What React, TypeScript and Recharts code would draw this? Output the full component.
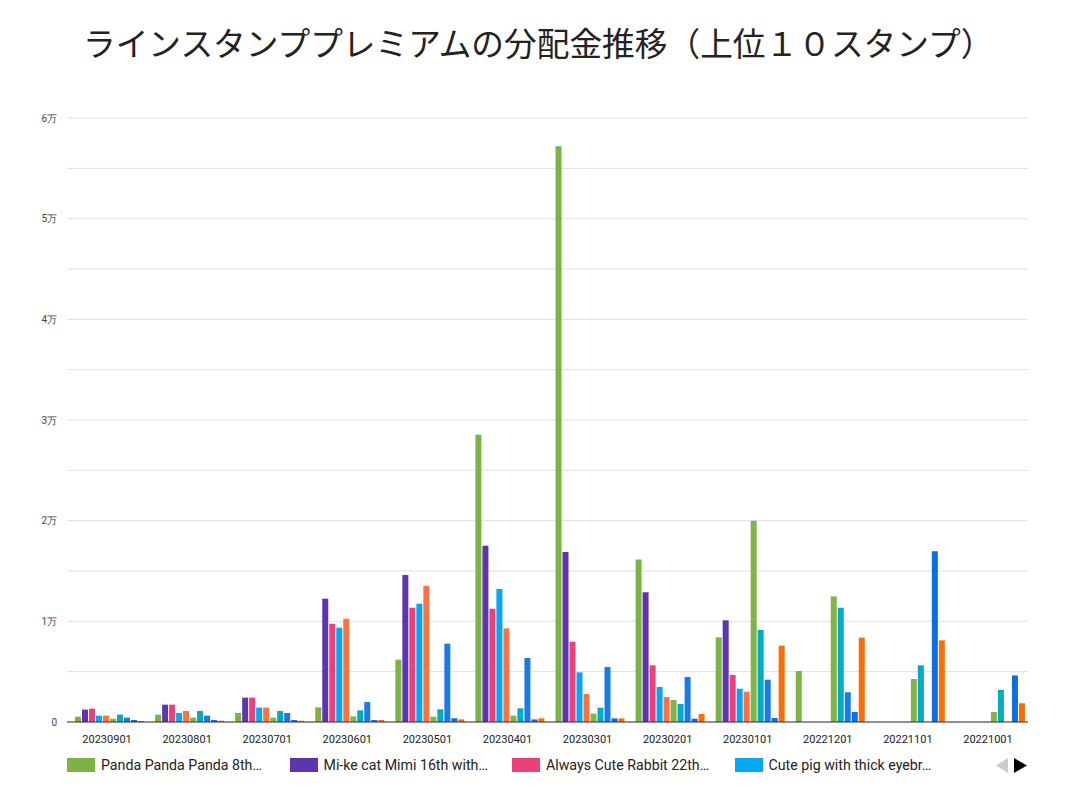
import { Bar, BarChart, CartesianGrid, XAxis, YAxis } from 'recharts';

const months = [
  '20230901', '20230801', '20230701', '20230601', '20230501', '20230401',
  '20230301', '20230201', '20230101', '20221201', '20221101', '20221001',
];

const seriesNames = [
  'Panda Panda Panda 8th…',
  'Mi-ke cat Mimi 16th with…',
  'Always Cute Rabbit 22th…',
  'Cute pig with thick eyebr…',
  'Stamp 5',
  'Stamp 6',
  'Stamp 7',
  'Stamp 8',
  'Stamp 9',
  'Stamp 10',
];

const seriesColors = [
  '#7cb342', '#5e35b1', '#ec407a', '#03a9f4', '#ff7043',
  '#7fb545', '#00acc1', '#1a7be8', '#0a6fe0', '#ff6d00',
];

const panda = [530, 730, 900, 1460, 6190, 28540, 57200, 16150, 8410, 5060, null, null];
const mikeCat = [1230, 1720, 2420, 12250, 14600, 17510, 16880, 12880, 10100, null, null, null];
const rabbit = [1330, 1720, 2420, 9760, 11350, 11250, 7980, 5630, 4670, null, null, null];
const pig = [630, 900, 1430, 9370, 11750, 13210, 4930, 3480, 3310, null, null, null];
const stamp5 = [630, 1090, 1430, 10260, 13540, 9300, 2780, 2480, 3010, null, null, null];
const stamp6 = [330, 430, 430, 560, 530, 630, 830, 2190, 19990, 12480, 4270, 990];
const stamp7 = [730, 1090, 1090, 1160, 1260, 1360, 1420, 1790, 9140, 11350, 5630, 3180];
const stamp8 = [430, 630, 900, 1990, 7780, 6360, 5460, 4470, 4200, 2950, null, null];
const stamp9 = [200, 200, 200, 200, 370, 260, 360, 330, 400, 990, 16950, 4630];
const stamp10 = [100, 130, 130, 200, 260, 360, 360, 790, 7580, 8380, 8110, 1860];

const seriesValues = [panda, mikeCat, rabbit, pig, stamp5, stamp6, stamp7, stamp8, stamp9, stamp10];

const yTicks = [0, 5000, 10000, 15000, 20000, 25000, 30000, 35000, 40000, 45000, 50000, 55000, 60000];

const data = months.map((m, i) => {
  const row: Record<string, string | number | null> = { month: m };
  seriesValues.forEach((vals, s) => {
    row[`s${s}`] = vals[i];
  });
  return row;
});

const fmtY = (v: number) => {
  if (v === 0) return '0';
  if (v % 10000 !== 0) return '';
  return `${v / 10000}万`;
};

export default function App() {
  return (
    <div style={{ position: 'relative', width: 1068, height: 797, background: '#fff', fontFamily: 'Roboto, sans-serif' }}>
      <style>{'body{margin:0}'}</style>
      <div
        style={{
          position: 'absolute',
          left: 83,
          top: 26,
          fontSize: 32.7,
          lineHeight: 1,
          color: '#222',
          fontFamily: '"Noto Sans CJK JP", sans-serif',
          whiteSpace: 'nowrap',
        }}
      >
        ラインスタンププレミアムの分配金推移（上位１０スタンプ）
      </div>
      <BarChart
        width={1068}
        height={797}
        data={data}
        margin={{ top: 118, right: 40, bottom: 45, left: 0 }}
        barCategoryGap="10%"
        barGap={1}
      >
        <CartesianGrid vertical={false} stroke="#e0e0e0" />
        <XAxis
          dataKey="month"
          tickLine={false}
          axisLine={{ stroke: '#333' }}
          tick={{ fontSize: 11, fill: '#222' }}
          tickMargin={7}
          height={30}
          interval={0}
        />
        <YAxis
          width={67}
          domain={[0, 60000]}
          ticks={yTicks}
          tickFormatter={fmtY}
          axisLine={false}
          tickLine={false}
          tickSize={0}
          tickMargin={10}
          tick={{ fontSize: 10, fill: '#444' }}
        />
        {seriesNames.map((name, s) => (
          <Bar key={name} dataKey={`s${s}`} name={name} fill={seriesColors[s]} isAnimationActive={false} />
        ))}
      </BarChart>
      <div
        style={{
          position: 'absolute',
          top: 757,
          left: 67,
          display: 'flex',
          alignItems: 'center',
          fontSize: 14.2,
          color: '#222',
        }}
      >
        {seriesNames.slice(0, 4).map((name, s) => (
          <div key={name} style={{ display: 'flex', alignItems: 'center', width: 222.5 }}>
            <span style={{ display: 'inline-block', width: 28, height: 14, background: seriesColors[s], marginRight: 6 }} />
            <span>{name}</span>
          </div>
        ))}
      </div>
      <svg style={{ position: 'absolute', left: 992, top: 756 }} width={40} height={20}>
        <polygon points="16,2 16,17 4,9.5" fill="#ccc" />
        <polygon points="22,2 22,17 35,9.5" fill="#000" />
      </svg>
    </div>
  );
}
